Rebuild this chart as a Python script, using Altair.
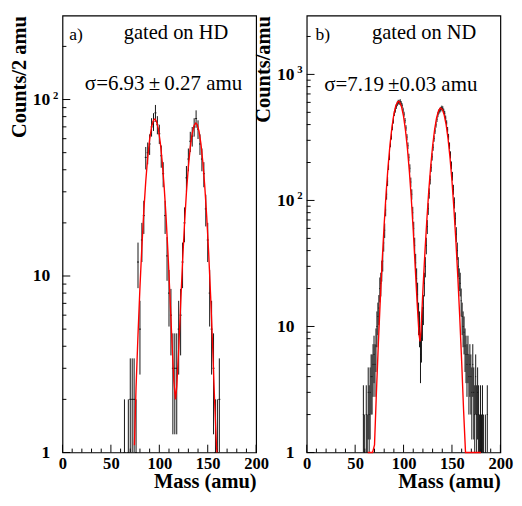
import altair as alt
import pandas as pd

FONT = "Liberation Serif"

# ---------------- panel a) gated on HD (2 amu bins, bin centres) ----------------
mass_a = [64, 66, 68, 70, 72, 74, 76, 78, 80, 82, 84, 86, 88, 90, 92, 94, 96, 98, 100,
          102, 104, 106, 108, 110, 112, 114, 116, 118, 120, 122, 124, 126, 128, 130, 132,
          134, 136, 138, 140, 142, 144, 146, 148, 150, 152, 154, 156, 158, 160, 162, 164]
counts_a = [1, 0, 1, 2, 2, 2, 1, 12, 5, 16, 22, 47, 50, 56, 70, 75, 84, 72, 64,
            48, 38, 22, 13, 8, 6, 3, 3, 3, 5, 6, 12, 20, 36, 46, 58,
            62, 70, 78, 68, 56, 46, 38, 24, 16, 8, 5, 3, 1, 1, 2, 0]
fit_x_a = [74.3, 76, 78, 80, 82, 84, 86, 88, 90, 92, 94, 95.5, 97, 99, 101, 103, 105, 107,
           109, 111, 113, 115, 116.7, 118, 120, 122, 124, 126, 128, 130, 132, 134, 136,
           137.7, 139, 141, 143, 145, 147, 149, 151, 153, 155, 157, 159, 159.6]
fit_y_a = [1.1, 2.36, 4.67, 8.6, 14.7, 23.4, 34.4, 47, 59.5, 70, 76.3, 77.5, 75.4, 68.2,
           57.1, 44.4, 32.1, 21.5, 13.3, 7.7, 4.3, 2.54, 2.0, 2.36, 3.83, 6.9, 12.0, 19.6,
           29.7, 41.5, 53.7, 64.4, 71.5, 73.5, 72.3, 66.2, 56.1, 44, 31.9, 21.5, 13.4, 7.7,
           4.1, 2.03, 1.1, 1.0]

# ---------------- panel b) gated on ND (1 amu bins, lower bin edges) ----------------
mass_b = [58, 59, 60, 61, 62, 63, 64, 65, 66, 67, 68, 69, 70, 71, 72, 73, 74, 75, 76, 77,
          78, 79, 80, 81, 82, 83, 84, 85, 86, 87, 88, 89, 90, 91, 92, 93, 94, 95, 96, 97,
          98, 99, 100, 101, 102, 103, 104, 105, 106, 107, 108, 109, 110, 111, 112, 113,
          114, 115, 116, 117, 118, 119, 120, 121, 122, 123, 124, 125, 126, 127, 128, 129,
          130, 131, 132, 133, 134, 135, 136, 137, 138, 139, 140, 141, 142, 143, 144, 145,
          146, 147, 148, 149, 150, 151, 152, 153, 154, 155, 156, 157, 158, 159, 160, 161,
          162, 163, 164, 165, 166, 167, 168, 169, 170, 171, 172, 173, 174, 175, 176, 177,
          178, 179, 180, 181, 182, 183, 184, 185, 186]
counts_b = [2, 1, 0, 2, 1, 3, 2, 3, 4, 4, 5, 6, 5, 7, 10, 12, 14, 20, 22, 28,
            33, 46, 58, 84, 112, 142, 188, 224, 281, 322, 380, 428, 490, 520, 556, 584, 604, 598, 612, 590,
            566, 522, 484, 430, 376, 318, 272, 220, 180, 140, 112, 80, 60, 44, 32, 24,
            18, 12, 10, 6, 8, 11, 14, 22, 30, 44, 62, 86, 114, 146, 182, 222,
            264, 310, 356, 398, 440, 480, 506, 520, 530, 542, 536, 512, 490, 450, 412, 364,
            320, 272, 230, 190, 156, 122, 96, 72, 54, 40, 30, 24, 22, 16, 12, 10,
            9, 7, 6, 5, 6, 4, 5, 4, 3, 5, 3, 2, 4, 2, 3, 2,
            1, 2, 1, 2, 1, 0, 1, 0, 2]
fit_x_b = [63, 66, 68, 70, 72, 74, 76, 78, 80, 82, 84, 86, 88, 90, 92, 94, 95, 96, 98, 100,
           102, 104, 106, 108, 110, 112, 114, 116, 117, 118, 120, 122, 124, 126, 128, 130,
           132, 134, 136, 138, 140, 142, 144, 146, 148, 150, 152, 154, 156, 158, 160, 162,
           164, 166, 170, 175, 180]
fit_y_b = [0.01, 0.08, 0.35, 1.15, 3.05, 7.4, 16.5, 34, 65, 115, 186, 277, 381, 483, 564,
           607, 611, 602, 551, 464, 360, 258, 170, 103, 58, 30, 15.5, 8.6, 7.6, 9.2, 19.5,
           38, 69, 118, 185, 269, 361, 447, 512, 542, 528, 476, 397, 306, 217, 143, 86.5,
           48.6, 25, 12, 5.3, 2.16, 0.81, 0.27, 0.02, 0.001, 0.0001]

# ---------------- axes ticks ----------------
x_major = [0, 50, 100, 150, 200]
x_minor = [10, 20, 30, 40, 60, 70, 80, 90, 110, 120, 130, 140, 160, 170, 180, 190]
y_major_a = [1, 10, 100]
y_minor_a = [2, 3, 4, 5, 6, 7, 8, 9, 20, 30, 40, 50, 60, 70, 80, 90, 200]
y_major_b = [1, 10, 100, 1000]
y_minor_b = [2, 3, 4, 5, 6, 7, 8, 9, 20, 30, 40, 50, 60, 70, 80, 90,
             200, 300, 400, 500, 600, 700, 800, 900, 2000]

W, H = 199, 449


def panel(mass, counts, binw, shift, fx, fy, ymax, ymajor, yminor, ytitle, sup,
          tag, tag_xy, gate, gate_xy, sigma, sigma_xy):
    hist = pd.DataFrame({"mass": mass, "n": counts})
    hist = hist[hist["n"] > 0]
    fit = pd.DataFrame({"mass": fx, "val": fy})

    xs = alt.Scale(domain=[0, 200], nice=False, zero=False)
    ys = alt.Scale(type="log", domain=[1, ymax], nice=False, clamp=True)
    xax = alt.Axis(values=x_major, title="Mass (amu)", labelFont=FONT,
                   labelFontWeight="bold", labelFontSize=17, labelPadding=3,
                   titleFont=FONT, titleFontWeight="bold", titleFontSize=21,
                   titleAnchor="end", titlePadding=0, titleColor="black",
                   labelColor="black", format="d", labelFlush=False)
    yax = alt.Axis(values=ymajor, title=ytitle, labelFont=FONT,
                   labelFontWeight="bold", labelFontSize=18, labelPadding=13,
                   labelExpr="datum.value >= 10 ? '10' : '1'",
                   titleFont=FONT, titleFontWeight="bold", titleFontSize=21,
                   titleAnchor="end", titlePadding=3, titleColor="black",
                   labelColor="black", labelFlush=False)

    def X(f):
        return alt.X(f, scale=xs, axis=xax)

    def Y(f):
        return alt.Y(f, scale=ys, axis=yax)

    err = alt.Chart(hist).transform_calculate(
        c=f"datum.mass + {shift}",
        lo="max(datum.n - sqrt(datum.n), 0.01)",
        hi="datum.n + sqrt(datum.n)",
    ).mark_rule(color="#111", strokeWidth=1).encode(
        x=X("c:Q"), y=Y("lo:Q"), y2="hi:Q")

    wid = alt.Chart(hist).transform_calculate(
        a=f"datum.mass + {shift} - {binw / 2}", b=f"datum.mass + {shift} + {binw / 2}",
    ).mark_rule(color="#111", strokeWidth=1).encode(
        x=X("a:Q"), x2="b:Q", y=Y("n:Q"))

    line = alt.Chart(fit).mark_line(color="#ff0000", strokeWidth=1.4).encode(
        x=X("mass:Q"), y=Y("val:Q"))

    ymaj = alt.Chart(pd.DataFrame({"v": ymajor})).mark_rule(color="black").encode(
        y=Y("v:Q"), x=alt.value(0), x2=alt.value(8))
    ymin = alt.Chart(pd.DataFrame({"v": yminor})).mark_rule(color="black").encode(
        y=Y("v:Q"), x=alt.value(0), x2=alt.value(4))
    xmaj = alt.Chart(pd.DataFrame({"v": x_major})).mark_rule(color="black").encode(
        x=X("v:Q"), y=alt.value(H), y2=alt.value(H - 8))
    xmin = alt.Chart(pd.DataFrame({"v": x_minor})).mark_rule(color="black").encode(
        x=X("v:Q"), y=alt.value(H), y2=alt.value(H - 4))

    supl = alt.Chart(pd.DataFrame({"v": [s[0] for s in sup], "s": [s[1] for s in sup]})).mark_text(
        font=FONT, fontWeight="bold", fontSize=11, align="center", baseline="middle",
        dy=-4, color="black").encode(y=Y("v:Q"), x=alt.value(-7), text="s:N")

    def label(txt, xy, size):
        return alt.Chart(pd.DataFrame({"t": [txt]})).mark_text(
            font=FONT, fontSize=size, align="left", baseline="alphabetic",
            color="black").encode(x=alt.value(xy[0]), y=alt.value(xy[1]), text="t:N")

    return alt.layer(
        ymin, ymaj, xmin, xmaj, err, wid, line, supl,
        label(tag, tag_xy, 18), label(gate, gate_xy, 21), label(sigma, sigma_xy, 21.5),
    ).properties(width=W, height=H)


pa = panel(mass_a, counts_a, 2, 0, fit_x_a, fit_y_a, 299, y_major_a, y_minor_a,
           "Counts/2 amu", [(100, "2")],
           "a)", (7, 25), "gated on HD", (63, 24), "σ=6.93\u2009±\u20090.27 amu", (23, 76))
pb = panel(mass_b, counts_b, 1, 0.5, fit_x_b, fit_y_b, 2930, y_major_b, y_minor_b,
           "Counts/amu", [(100, "2"), (1000, "3")],
           "b)", (9, 25), "gated on ND", (67, 24), "σ=7.19\u2009±0.03 amu", (18, 77))

chart = alt.hconcat(pa, pb, spacing=52, bounds="flush").properties(
    padding={"left": 0, "top": 0, "right": 0, "bottom": 0},
    background="white",
).configure_view(stroke="black", strokeWidth=1.2).configure_axis(
    grid=False, domain=False, ticks=False)

chart.save("out.html", embed_options={"renderer": "svg", "actions": False})
